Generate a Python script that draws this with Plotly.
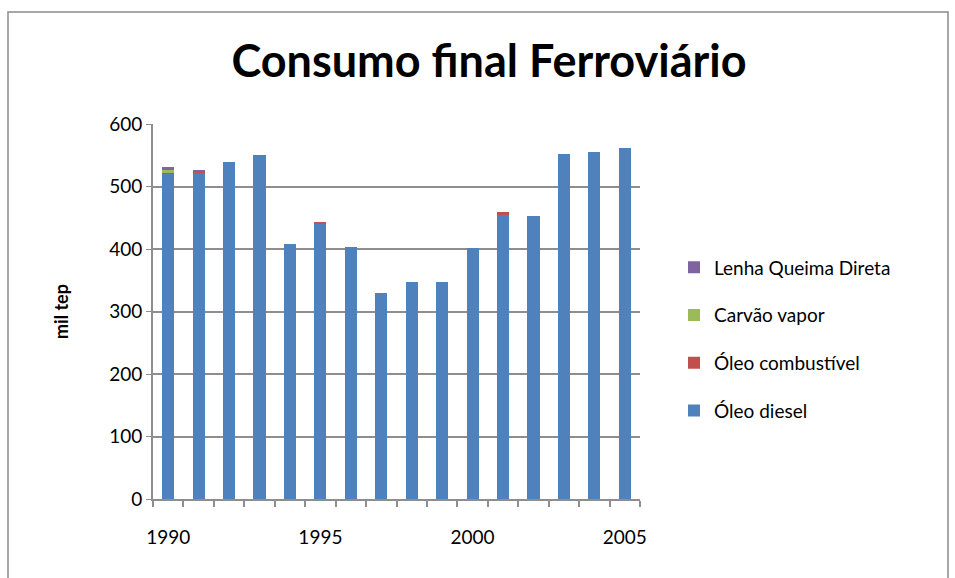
import plotly.graph_objects as go

years = list(range(1990, 2006))
oleo_diesel = [520, 522, 540, 550, 408, 440, 404, 330, 348, 348, 402, 455, 453, 552, 556, 562]
oleo_combustivel = [1, 1, 0, 0, 0, 3, 0, 0, 0, 0, 0, 4, 0, 0, 0, 0]
carvao_vapor = [6, 0, 0, 0, 0, 0, 0, 0, 0, 0, 0, 0, 0, 0, 0, 0]
lenha = [4, 4, 0, 0, 0, 0, 0, 0, 0, 0, 0, 0, 0, 0, 0, 0]

series = [
    ("Óleo diesel", oleo_diesel, "#4F81BD"),
    ("Óleo combustível", oleo_combustivel, "#C0504D"),
    ("Carvão vapor", carvao_vapor, "#9BBB59"),
    ("Lenha Queima Direta", lenha, "#8064A2"),
]

FONT = "Lato"
fig = go.Figure()
n = len(series)
for i, (name, vals, col) in enumerate(series):
    fig.add_trace(go.Bar(x=years, y=vals, name=name, marker_color=col,
                         marker_line_width=0, width=0.4,
                         legendgroup=str(i), legendrank=n - i))

GRID = "#8e8e8e"
L, R, T, B = 153, 640, 124, 499
PW, PH = R - L, B - T
fig.update_layout(
    width=955, height=578,
    barmode="stack",
    paper_bgcolor="white", plot_bgcolor="white",
    margin=dict(l=L, r=955 - R, t=T, b=578 - B, autoexpand=False),
    title=dict(text="<b>Consumo final Ferroviário</b>", x=489 / 955, xref="container",
               xanchor="center", y=1 - 61 / 578, yanchor="middle",
               font=dict(family=FONT, size=45, color="black")),
    font=dict(family=FONT, size=19, color="black"),
    showlegend=True,
    legend=dict(x=(674 - L) / PW, xanchor="left", y=(B - 339) / PH, yanchor="middle",
                traceorder="grouped", tracegroupgap=20,
                font=dict(family=FONT, size=19, color="black"),
                itemwidth=30),
    xaxis=dict(range=[1989.5, 2005.5], tickvals=[1990, 1995, 2000, 2005],
               ticktext=["1990", "1995", "2000", "2005"], automargin=False,
               ticks="", showgrid=False, showline=True, linecolor=GRID, linewidth=2,
               ticklabelstandoff=20,
               minor=dict(tick0=1989.5, dtick=1, ticks="outside", ticklen=6,
                          tickcolor=GRID, tickwidth=1.5, showgrid=False),
               tickfont=dict(family=FONT, size=19)),
    yaxis=dict(range=[0, 600], dtick=100, showgrid=True, gridcolor=GRID, gridwidth=1.5,
               showline=True, linecolor=GRID, linewidth=2, ticks="outside", ticklen=5,
               tickcolor=GRID, tickfont=dict(family=FONT, size=19), automargin=False,
               zeroline=False,
               title=dict(text="<b>mil tep</b>", font=dict(family=FONT, size=18), standoff=36)),
    shapes=[dict(type="rect", xref="paper", yref="paper",
                 x0=(8 - L) / PW, x1=(948 - L) / PW, y0=-0.5, y1=(B - 12) / PH,
                 line=dict(color="#8a8a8a", width=1.5), fillcolor="rgba(0,0,0,0)",
                 layer="below")],
)
fig.write_html("out.html", config={"displayModeBar": False},
               post_script="document.body.style.margin='0';document.body.style.overflow='hidden';")
